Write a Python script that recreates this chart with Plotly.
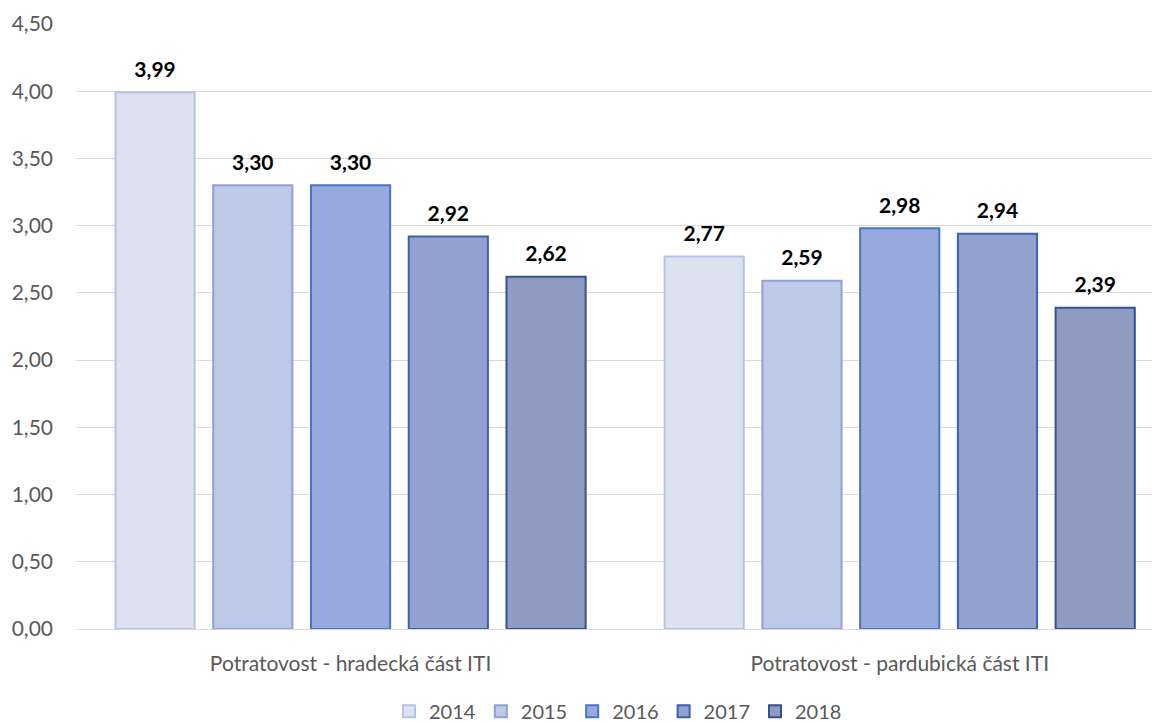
import plotly.graph_objects as go

categories = ["Potratovost - hradecká část ITI", "Potratovost - pardubická část ITI"]
years = ["2014", "2015", "2016", "2017", "2018"]
values = {
    "2014": [3.99, 2.77],
    "2015": [3.30, 2.59],
    "2016": [3.30, 2.98],
    "2017": [2.92, 2.94],
    "2018": [2.62, 2.39],
}
y_ticks = [0, 0.5, 1, 1.5, 2, 2.5, 3, 3.5, 4, 4.5]

fills = ["#dde2f1", "#bec8e7", "#98aadd", "#93a1d0", "#8f9bc0"]
borders = ["#b7c3e6", "#8ea2d8", "#4a74c6", "#3d62ad", "#33528f"]

FONT = "Lato, Open Sans, sans-serif"

fig = go.Figure()
for i, yr in enumerate(years):
    vals = values[yr]
    fig.add_trace(go.Bar(
        name=yr,
        x=categories,
        y=vals,
        marker=dict(color=fills[i], line=dict(color=borders[i], width=2)),
        text=["<span style='font-size:21px;color:#000000'><b>" + f"{v:.2f}".replace(".", ",")
              + "</b></span><br>." for v in vals],
        textposition="outside",
        textfont=dict(family=FONT, size=8, color="#ffffff"),
        cliponaxis=False,
        hoverinfo="skip",
    ))

fig.update_layout(
    width=1152, height=714,
    margin=dict(l=68, r=0, t=16, b=93, autoexpand=False),
    paper_bgcolor="white", plot_bgcolor="white",
    barmode="group", bargap=0.11, bargroupgap=0.19,
    separators=", ",
    font=dict(family=FONT, size=21, color="#595959"),
    showlegend=True,
    legend=dict(orientation="h", x=0.5, xanchor="center", y=-0.136, yanchor="middle",
                font=dict(size=20, color="#595959"), traceorder="normal",
                itemwidth=30, tracegroupgap=0),
)
fig.update_xaxes(range=[-0.5, 1.474], showgrid=False, showline=True, linecolor="#d9d9d9",
                 linewidth=1, ticks="", automargin=False, ticklabelstandoff=16,
                 tickfont=dict(size=21, color="#595959"))
fig.update_yaxes(range=[0, 4.5], tickvals=y_ticks, tickformat=".2f", showgrid=True,
                 gridcolor="#d9d9d9", gridwidth=1, zeroline=False, showline=False,
                 ticks="", ticklabelstandoff=22, automargin=False,
                 tickfont=dict(size=21, color="#595959"))

fig.write_html("out.html")
